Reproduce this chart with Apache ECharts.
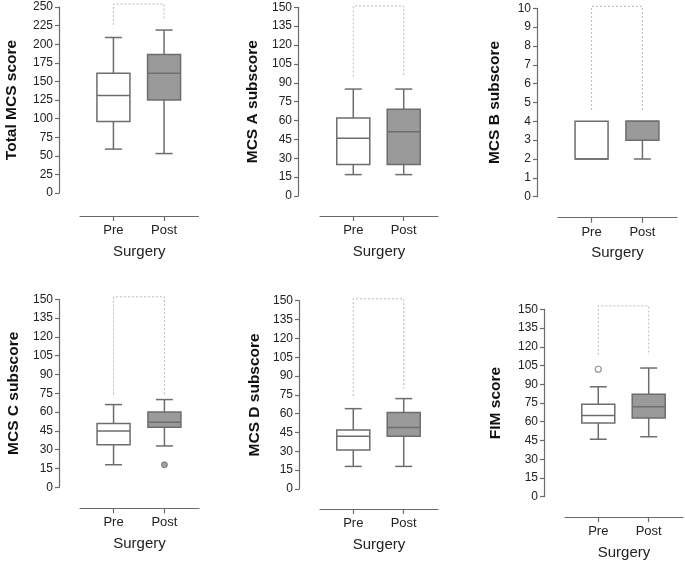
<!DOCTYPE html>
<html>
<head>
<meta charset="utf-8">
<script src="https://cdn.jsdelivr.net/npm/echarts@6/dist/echarts.min.js"></script>
<style>
html,body{margin:0;padding:0;background:#fff;}
#chart{width:685px;height:564px;}
</style>
</head>
<body>
<div id="chart"></div>
<script>
// Categories
const categories = ['Pre', 'Post'];

// Box statistics: [min, Q1, median, Q3, max]
const totalPre  = [59, 96, 131, 161, 209];
const totalPost = [53, 125, 161, 186, 219];
const mcsAPre   = [17, 25, 46, 62, 85];
const mcsAPost  = [17, 25, 51, 69, 85];
const mcsBPre   = [2, 2, 2, 4, 4];
const mcsBPost  = [2, 3, 4, 4, 4];
const mcsCPre   = [18, 34, 45, 51, 66];
const mcsCPost  = [33, 48, 52, 60, 70];
const mcsDPre   = [18, 31, 42, 47, 64];
const mcsDPost  = [18, 42, 49, 61, 72];
const fimPre    = [46, 59, 65, 74, 88];
const fimPost   = [48, 63, 72, 82, 103];

// Outliers: [categoryIndex, value]
const mcsCOutliers = [[1, 18]];
const fimOutliers  = [[0, 102]];

// Significance brackets: [left leg end, top, right leg end]
const totalBracket = [226, 254, 234];
const mcsABracket  = [95, 151, 95];
const mcsBBracket  = [4.6, 10.1, 4.6];
const mcsCBracket  = [74, 152, 74];
const mcsDBracket  = [74, 151.5, 80];
const fimBracket   = [113.5, 152.7, 113.5];

// Axis titles and scales
const yTitles = ['Total MCS score', 'MCS A subscore', 'MCS B subscore', 'MCS C subscore', 'MCS D subscore', 'FIM score'];
const yMax = [250, 150, 10, 150, 150, 150];
const yStep = [25, 15, 1, 15, 15, 15];
const xTitle = 'Surgery';

const panelsData = [
  {pre: totalPre, post: totalPost, out: [], outStyle: 'filled', br: totalBracket},
  {pre: mcsAPre, post: mcsAPost, out: [], outStyle: 'filled', br: mcsABracket},
  {pre: mcsBPre, post: mcsBPost, out: [], outStyle: 'filled', br: mcsBBracket},
  {pre: mcsCPre, post: mcsCPost, out: mcsCOutliers, outStyle: 'filled', br: mcsCBracket},
  {pre: mcsDPre, post: mcsDPost, out: [], outStyle: 'filled', br: mcsDBracket},
  {pre: fimPre, post: fimPost, out: fimOutliers, outStyle: 'hollow', br: fimBracket}
];

// Layout (pixels)
const layout = [
  {left: 80,  top: 7,     width: 118.5, height: 186,   yOff: 21, xOff: 23, nameGap: 39},
  {left: 320, top: 7.3,   width: 118,   height: 188.7, yOff: 22, xOff: 20, nameGap: 37},
  {left: 558, top: 8.3,   width: 119,   height: 188.4, yOff: 21, xOff: 21, nameGap: 34},
  {left: 80,  top: 299.3, width: 119,   height: 188,   yOff: 21, xOff: 21, nameGap: 37},
  {left: 320, top: 300.7, width: 118,   height: 188.3, yOff: 21, xOff: 20, nameGap: 36},
  {left: 565, top: 309.3, width: 118,   height: 187.4, yOff: 21, xOff: 20.5, nameGap: 40}
];

const axisColor = '#6a6a6a';
const boxColor = '#6d6d6d';
const fills = ['#ffffff', '#9a9a9a'];
const font = 'Liberation Sans, Arial, sans-serif';

const grids = [], xAxes = [], yAxes = [], series = [];

layout.forEach((L, i) => {
  grids.push({left: L.left, top: L.top, width: L.width, height: L.height, containLabel: false});
  xAxes.push({
    type: 'value', gridIndex: i, min: -0.66, max: 1.68, offset: L.xOff, position: 'bottom',
    splitLine: {show: false},
    axisLine: {show: true, onZero: false, lineStyle: {color: axisColor, width: 1.2}},
    axisTick: {show: true, customValues: [0, 1], length: 5, lineStyle: {color: axisColor, width: 1.2}},
    axisLabel: {show: true, customValues: [0, 1], formatter: v => categories[Math.round(v)], fontSize: 13, color: '#222', fontFamily: font, margin: 8},
    name: xTitle, nameLocation: 'middle', nameGap: 28,
    nameTextStyle: {fontSize: 15, color: '#222', fontFamily: font}
  });
  yAxes.push({
    type: 'value', gridIndex: i, min: 0, max: yMax[i], interval: yStep[i], offset: L.yOff, position: 'left',
    splitLine: {show: false},
    axisLine: {show: true, onZero: false, lineStyle: {color: axisColor, width: 1.2}},
    axisTick: {show: true, length: 4, lineStyle: {color: axisColor, width: 1.2}},
    axisLabel: {fontSize: 12, color: '#222', fontFamily: font, margin: 6},
    name: yTitles[i], nameLocation: 'middle', nameRotate: 90, nameGap: L.nameGap,
    nameTextStyle: {fontSize: 15.5, fontWeight: 'bold', color: '#111', fontFamily: font}
  });

  const P = panelsData[i];
  series.push({
    type: 'custom', xAxisIndex: i, yAxisIndex: i, clip: false, silent: true,
    encode: {x: 0, y: [1, 2, 3, 4, 5]},
    data: [[0].concat(P.pre), [1].concat(P.post)],
    renderItem: function (params, api) {
      const x = api.value(0);
      const v = [1, 2, 3, 4, 5].map(k => api.value(k));
      const c = v.map(val => api.coord([x, val]));
      const cx = c[0][0];
      const hw = 16.5, cap = 8.5;
      const st = {stroke: boxColor, lineWidth: 1.5, fill: null};
      const ch = [];
      if (v[4] > v[3]) {
        ch.push({type: 'line', shape: {x1: cx, y1: c[4][1], x2: cx, y2: c[3][1]}, style: st});
        ch.push({type: 'line', shape: {x1: cx - cap, y1: c[4][1], x2: cx + cap, y2: c[4][1]}, style: st});
      }
      if (v[0] < v[1]) {
        ch.push({type: 'line', shape: {x1: cx, y1: c[1][1], x2: cx, y2: c[0][1]}, style: st});
        ch.push({type: 'line', shape: {x1: cx - cap, y1: c[0][1], x2: cx + cap, y2: c[0][1]}, style: st});
      }
      ch.push({type: 'rect', shape: {x: cx - hw, y: c[3][1], width: hw * 2, height: c[1][1] - c[3][1]},
        style: {stroke: boxColor, lineWidth: 1.5, fill: fills[params.dataIndex]}});
      ch.push({type: 'line', shape: {x1: cx - hw, y1: c[2][1], x2: cx + hw, y2: c[2][1]}, style: st});
      return {type: 'group', children: ch};
    }
  });
  if (P.out.length) {
    series.push({
      type: 'scatter', xAxisIndex: i, yAxisIndex: i, silent: true, clip: false,
      data: P.out, symbol: 'circle', symbolSize: 6,
      itemStyle: P.outStyle === 'filled'
        ? {color: '#8a8a8a', borderColor: '#666', borderWidth: 1}
        : {color: '#fff', borderColor: '#777', borderWidth: 1.2}
    });
  }
  series.push({
    type: 'line', xAxisIndex: i, yAxisIndex: i, silent: true, clip: false,
    symbol: 'none', animation: false,
    data: [[0, P.br[0]], [0, P.br[1]], [1, P.br[1]], [1, P.br[2]]],
    lineStyle: {color: '#b8b8b8', width: 1, type: [2, 2]}
  });
});

const chart = echarts.init(document.getElementById('chart'), null, {renderer: 'canvas'});
chart.setOption({
  animation: false,
  backgroundColor: '#fff',
  grid: grids, xAxis: xAxes, yAxis: yAxes, series: series
});
</script>
</body>
</html>
